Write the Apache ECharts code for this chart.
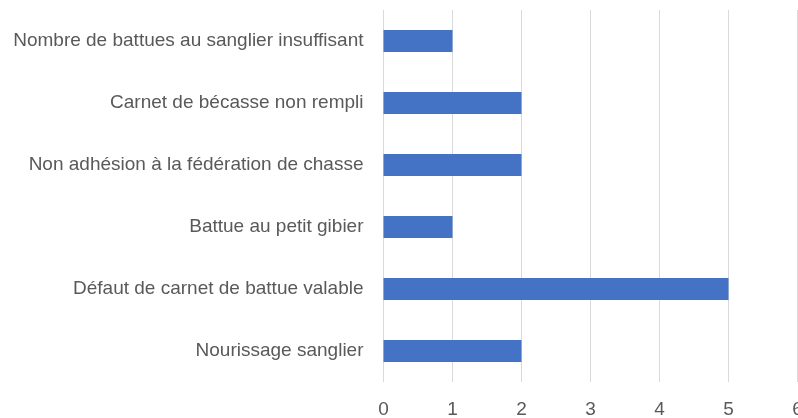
<!DOCTYPE html>
<html>
<head>
<meta charset="utf-8">
<script src="https://cdn.jsdelivr.net/npm/echarts@6/dist/echarts.min.js"></script>
<style>
  html, body { margin: 0; padding: 0; background: #fff; }
  #chart { width: 798px; height: 418px; }
</style>
</head>
<body>
<div id="chart"></div>
<script>
// Infractions constatées, listées de haut en bas
const categories = [
  "Nombre de battues au sanglier insuffisant",
  "Carnet de bécasse non rempli",
  "Non adhésion à la fédération de chasse",
  "Battue au petit gibier",
  "Défaut de carnet de battue valable",
  "Nourissage sanglier"
];
const counts = [1, 2, 2, 1, 5, 2];
const xTicks = [0, 1, 2, 3, 4, 5, 6];

const chart = echarts.init(document.getElementById('chart'));
const fontFamily = '"Liberation Sans", Arial, sans-serif';

chart.setOption({
  animation: false,
  grid: { left: 383.5, right: 0.5, top: 10, bottom: 36, containLabel: false, outerBoundsMode: 'none' },
  xAxis: {
    type: 'value',
    min: xTicks[0],
    max: xTicks[xTicks.length - 1],
    interval: 1,
    axisLine: { show: false },
    axisTick: { show: false },
    axisLabel: { color: '#595959', fontSize: 19, fontFamily, margin: 18 },
    splitLine: { show: true, lineStyle: { color: '#d9d9d9', width: 1 } }
  },
  yAxis: {
    type: 'category',
    data: categories.slice().reverse(),
    axisLine: { show: false },
    axisTick: { show: false },
    axisLabel: { color: '#595959', fontSize: 19, fontFamily, margin: 20 }
  },
  series: [{
    type: 'bar',
    data: counts.slice().reverse(),
    barWidth: 22,
    itemStyle: { color: '#4472c4' }
  }]
});
</script>
</body>
</html>
